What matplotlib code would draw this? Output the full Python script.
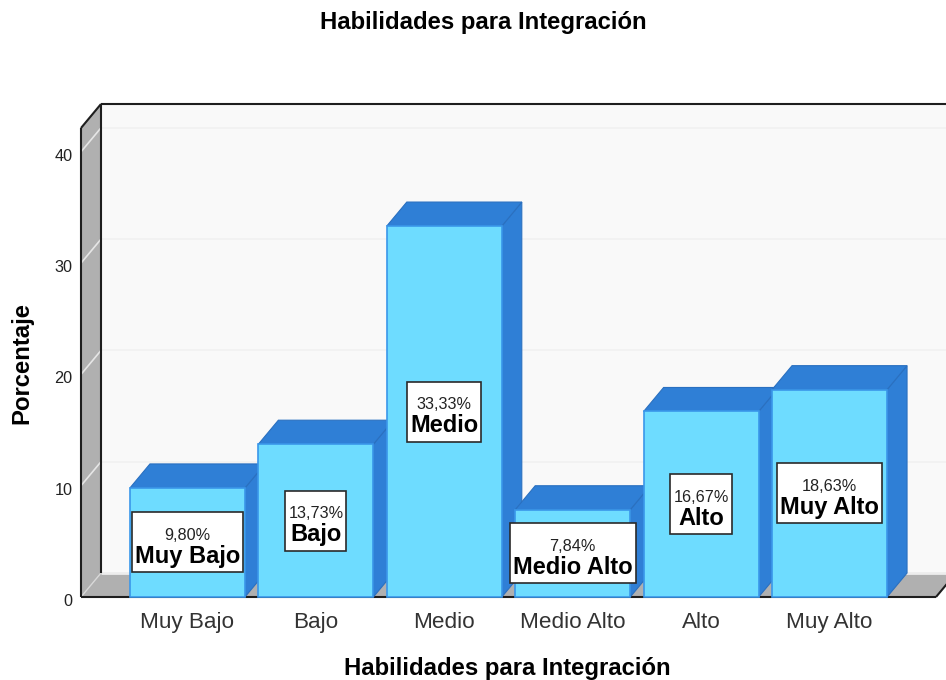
import matplotlib
matplotlib.use("Agg")
import matplotlib.pyplot as plt
from matplotlib.patches import Polygon, Rectangle
from matplotlib.transforms import ScaledTranslation

categories = ["Muy Bajo", "Bajo", "Medio", "Medio Alto", "Alto", "Muy Alto"]
values = [9.80, 13.73, 33.33, 7.84, 16.67, 18.63]
value_labels = ["9,80%", "13,73%", "33,33%", "7,84%", "16,67%", "18,63%"]
y_ticks = [0, 10, 20, 30, 40]

plt.rcParams["font.family"] = ["Liberation Sans", "DejaVu Sans"]

W, H = 946, 680
fig = plt.figure(figsize=(W / 100, H / 100), dpi=100, facecolor="white")
ax = fig.add_axes([81 / W, (H - 597) / H, 855 / W, 469 / H])
xL, xR = -0.829, 5.829
yB, yT = 0, 42.14
ax.set_xlim(xL, xR)
ax.set_ylim(yB, yT)
for s in ax.spines.values():
    s.set_visible(False)
ax.patch.set_alpha(0)

px_x = (xR - xL) / 855
px_y = (yT - yB) / 469
dx, dy = 20 * px_x, 24 * px_y
bar_w = 115 * px_x

FRONT, DARK = "#6EDCFF", "#2F7FD6"
EDGE = "#3A97EA"
WALL, BACK, LINE = "#B0B0B0", "#F9F9F9", "#1E1E1E"


def poly(pts, fc, ec="none", lw=0.0, z=1):
    ax.add_patch(Polygon(pts, closed=True, fc=fc, ec=ec, lw=lw, zorder=z, clip_on=False))


def line(xs, ys, c=LINE, lw=1.5, z=2):
    ax.plot(xs, ys, color=c, lw=lw, zorder=z, clip_on=False, solid_capstyle="butt")


# back wall, side wall, floor
poly([(xL + dx, dy), (xR + 2 * dx, dy), (xR + 2 * dx, yT + dy), (xL + dx, yT + dy)], BACK)
poly([(xL, 0), (xL + dx, dy), (xL + dx, yT + dy), (xL, yT)], WALL)
poly([(xL, 0), (xR, 0), (xR + dx, dy), (xL + dx, dy)], WALL)

# gridlines
for t in y_ticks[1:]:
    line([xL + dx, xR + 2 * dx], [t + dy, t + dy], c="#F1F1F1", lw=1.2, z=1.5)
    line([xL, xL + dx], [t, t + dy], c="#E6E6E6", lw=1.2, z=1.5)
line([xL + dx, xR + 2 * dx], [dy, dy], c="#EDEDED", lw=2.0, z=1.5)
line([xL, xL + dx], [0, dy], c="#D8D8D8", lw=1.0, z=1.5)

# frame
line([xL, xL], [0, yT])
line([xL, xL + dx], [yT, yT + dy])
line([xL + dx, xL + dx], [dy, yT + dy])
line([xL + dx, xR + dx], [yT + dy, yT + dy])
line([xL, xR], [0, 0])
line([xR, xR + dx], [0, dy])

# bars
for i, v in enumerate(values):
    l, r = i - bar_w / 2, i + bar_w / 2
    z = 3 + i * 0.1
    poly([(r, 0), (r + dx, dy), (r + dx, v + dy), (r, v)], DARK, "#2A70C0", 0.8, z)
    poly([(l, v), (r, v), (r + dx, v + dy), (l + dx, v + dy)], DARK, "#2A70C0", 0.8, z)
    poly([(l, 0), (r, 0), (r, v), (l, v)], FRONT, EDGE, 1.2, z)

# ticks and axis titles
ax.set_xticks(range(len(categories)), categories)
ax.set_yticks(y_ticks)
ax.tick_params(axis="x", length=0, labelsize=16.2, pad=10.5, labelcolor="#333333")
ax.tick_params(axis="y", length=0, labelsize=11.7, pad=6, labelcolor="#222222")
shift = ScaledTranslation(0, -4.5 / 100, fig.dpi_scale_trans)
for lab in ax.get_yticklabels():
    lab.set_verticalalignment("center")
    lab.set_transform(lab.get_transform() + shift)
fig.text(483.5 / W, 1 - 22 / H, "Habilidades para Integración", fontsize=17.2,
         fontweight="bold", ha="center", va="center", color="black")
fig.text(507.5 / W, 1 - 668 / H, "Habilidades para Integración", fontsize=17.2,
         fontweight="bold", ha="center", va="center", color="black")
fig.text(22 / W, 1 - 363 / H, "Porcentaje", fontsize=17.2, fontweight="bold",
         rotation=90, ha="center", va="center", color="black")

# value boxes, centred on half the bar height
fig.canvas.draw()
rend = fig.canvas.get_renderer()
for i, (v, name, pct) in enumerate(zip(values, categories, value_labels)):
    cy = v / 2
    t1 = ax.annotate(pct, (i, cy), xytext=(0, 5.2), textcoords="offset points",
                     ha="center", va="center", fontsize=11.7, color="#222222", zorder=11)
    t2 = ax.annotate(name, (i, cy), xytext=(0, -10), textcoords="offset points",
                     ha="center", va="center", fontsize=17, fontweight="bold",
                     color="black", zorder=11)
    w_px = max(t1.get_window_extent(rend).width, t2.get_window_extent(rend).width) + 6
    bw, bh = w_px * px_x, 60 * px_y
    ax.add_patch(Rectangle((i - bw / 2, cy - bh / 2), bw, bh, fc="white", ec="#2A2A2A",
                           lw=1.2, zorder=10, clip_on=False))

fig.savefig("out.png", dpi=100)
